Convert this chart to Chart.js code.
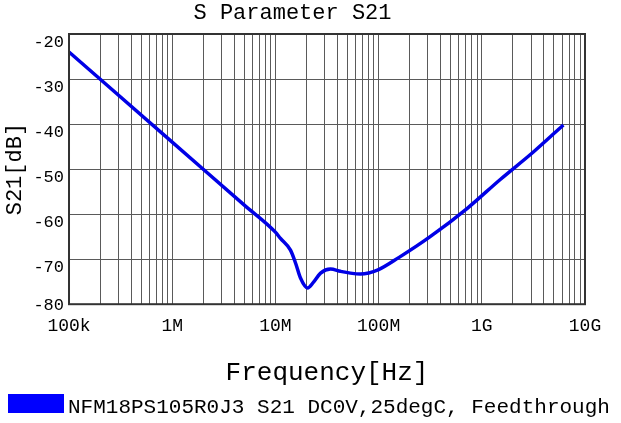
<!DOCTYPE html>
<html>
<head>
<meta charset="utf-8">
<script src="https://cdn.jsdelivr.net/npm/chart.js@4"></script>
<style>
  body { margin: 0; background: #fff; }
  canvas { display: block; }
</style>
</head>
<body>
<canvas id="chart" width="621" height="423"></canvas>
<script>
// data
const freqHz = [1e5, 1e6, 5e6, 1e7, 1.12e7, 1.4e7, 1.57e7, 1.75e7, 2.05e7, 2.34e7, 2.74e7, 3.42e7,
  4.27e7, 5.33e7, 6.67e7, 1e8, 1.58e8, 3.16e8, 7.24e8, 1.51e9, 3.16e9, 6.17e9];
const s21dB = [-24, -44, -58, -64, -65.4, -68, -70.9, -74.2, -76.4, -75.1, -73.1, -72.2,
  -72.7, -73.1, -73.3, -72.3, -69.6, -65, -58.7, -52.3, -46.2, -40.2];

const decadeTicks = [1e5, 1e6, 1e7, 1e8, 1e9, 1e10];
const decadeLabels = ['100k', '1M', '10M', '100M', '1G', '10G'];
const minorSteps = [1, 2, 3, 4, 5, 6, 7, 8, 9];
const yTicks = [-20, -30, -40, -50, -60, -70, -80];

const seriesLabel = 'NFM18PS105R0J3 S21 DC0V,25degC, Feedthrough';
const lineColor = '#0000e6';
const gridColor = '#5a5a5a';
const monoFont = '"Liberation Mono", "Courier New", monospace';

// grid lines at 1..9 x each decade
const gridTicks = [];
decadeTicks.forEach((d, i) => {
  if (i === decadeTicks.length - 1) {
    gridTicks.push(d);
  } else {
    minorSteps.forEach(m => gridTicks.push(d * m));
  }
});

const frameBorder = {
  id: 'frameBorder',
  afterDatasetsDraw(chart) {
    const { ctx, chartArea: { left, top, width, height } } = chart;
    ctx.save();
    ctx.strokeStyle = '#333';
    ctx.lineWidth = 2;
    ctx.strokeRect(left, top, width, height);
    ctx.restore();
  }
};

// y labels sit a little below their grid line, like the original
const yLabels = {
  id: 'yLabels',
  afterDraw(chart) {
    const { ctx, chartArea: { left }, scales: { y } } = chart;
    ctx.save();
    ctx.fillStyle = '#000';
    ctx.font = '17px ' + monoFont;
    ctx.textAlign = 'right';
    ctx.textBaseline = 'alphabetic';
    yTicks.forEach(v => {
      const py = y.getPixelForValue(v) + (v === -80 ? 6 : 13);
      ctx.fillText(String(v), left - 5, py);
    });
    ctx.restore();
  }
};

const legendBox = {
  id: 'legendBox',
  afterDraw(chart) {
    const { ctx } = chart;
    ctx.save();
    ctx.fillStyle = '#0000ff';
    ctx.fillRect(8, 394, 56, 19);
    ctx.fillStyle = '#000';
    ctx.font = '21px ' + monoFont;
    ctx.textBaseline = 'alphabetic';
    ctx.fillText(chart.data.datasets[0].label, 68, 413);
    ctx.restore();
  }
};

new Chart(document.getElementById('chart'), {
  type: 'line',
  data: {
    datasets: [{
      label: seriesLabel,
      data: freqHz.map((f, i) => ({ x: f, y: s21dB[i] })),
      borderColor: lineColor,
      backgroundColor: lineColor,
      borderWidth: 3.5,
      pointRadius: 0,
      cubicInterpolationMode: 'monotone',
      clip: false,
    }]
  },
  options: {
    responsive: false,
    animation: false,
    layout: { padding: { left: 0, right: 36, top: 0, bottom: 34 } },
    plugins: {
      title: {
        display: true,
        text: 'S Parameter S21',
        color: '#000',
        font: { family: monoFont, size: 22, weight: 'normal' },
        padding: { top: 0, bottom: 7.6 }
      },
      legend: { display: false },
      tooltip: { enabled: false }
    },
    scales: {
      x: {
        type: 'logarithmic',
        min: 1e5,
        max: 1e10,
        afterBuildTicks: (axis) => {
          axis.ticks = gridTicks.map(v => ({ value: v }));
        },
        ticks: {
          autoSkip: false,
          maxRotation: 0,
          color: '#000',
          padding: 11,
          font: { family: monoFont, size: 18 },
          callback: (val) => {
            const i = decadeTicks.findIndex(d => Math.abs(d - val) / d < 1e-6);
            return i >= 0 ? decadeLabels[i] : '';
          }
        },
        grid: { color: gridColor, lineWidth: 1, drawTicks: false },
        border: { display: false },
        title: {
          display: true,
          text: 'Frequency[Hz]',
          color: '#000',
          font: { family: monoFont, size: 26 },
          padding: { top: 10, bottom: 0 }
        }
      },
      y: {
        min: -80,
        max: -20,
        ticks: {
          stepSize: 10,
          color: 'rgba(0,0,0,0)',
          padding: 5,
          font: { family: monoFont, size: 17 }
        },
        grid: { color: gridColor, lineWidth: 1, drawTicks: false },
        border: { display: false },
        title: {
          display: true,
          text: 'S21[dB]',
          color: '#000',
          font: { family: monoFont, size: 22 },
          padding: { top: 2, bottom: 0 }
        }
      }
    }
  },
  plugins: [frameBorder, yLabels, legendBox]
});
</script>
</body>
</html>
